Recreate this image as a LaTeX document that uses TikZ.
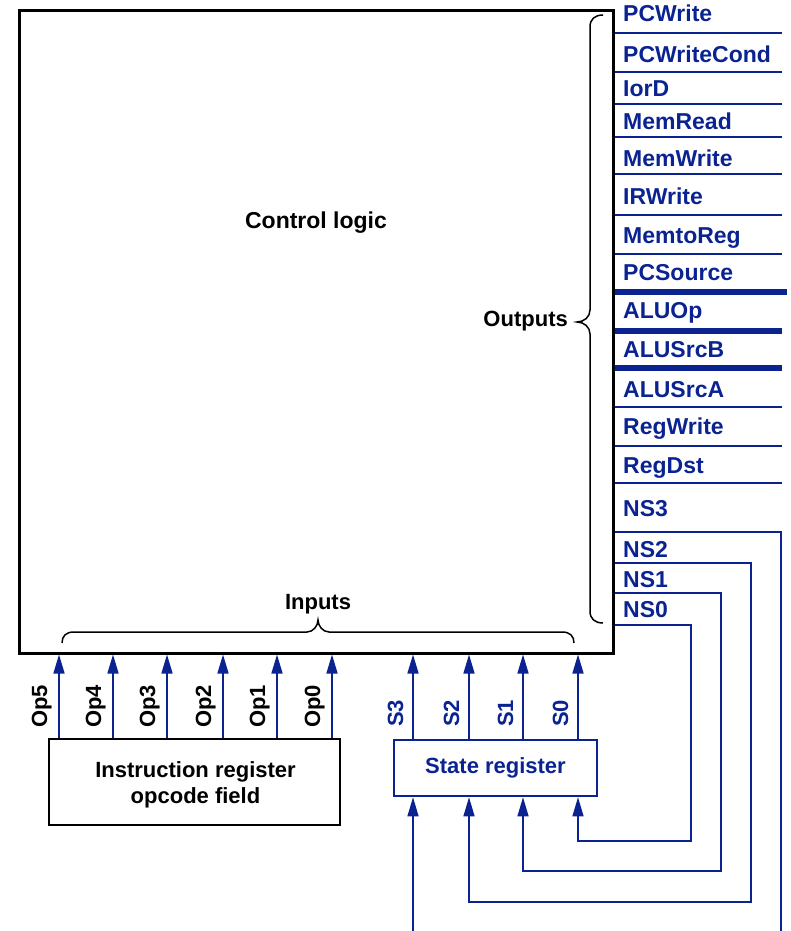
\documentclass[tikz,border=0pt]{standalone}
\usepackage{fontspec}
\setmainfont{Liberation Sans}
\usetikzlibrary{arrows.meta}
\definecolor{sigblue}{RGB}{10,35,145}
\begin{document}
\begin{tikzpicture}[x=1pt,y=-1pt,
  box/.style={draw, rectangle, inner sep=0},
  arr/.style={sigblue, line width=1.5pt, -{Triangle[length=19pt,width=11pt]}},
  wire/.style={sigblue, line width=1.3pt},
  outthin/.style={sigblue, line width=2pt},
  outthick/.style={sigblue, line width=5.5pt},
  sig/.style={text=sigblue, font=\fontsize{23}{27}\selectfont\bfseries, inner sep=0, anchor=base west},
  lbl/.style={font=\fontsize{22}{26}\selectfont\bfseries, inner sep=0},
  rlbl/.style={lbl, rotate=90, anchor=base west},
  bracestyle/.style={black, line width=1.5pt}]
\useasboundingbox (0,0) rectangle (790,931);

% main boxes
\node[box, line width=3pt, minimum width=594pt, minimum height=642.5pt] (ctrl) at (316,331.75) {};
\node[lbl, anchor=base, font=\fontsize{23}{27}\selectfont\bfseries] (ctrltxt) at (316,228) {Control logic};
\node[box, line width=2.5pt, minimum width=291pt, minimum height=86pt] (ir) at (194.5,782) {};
\node[lbl, anchor=base, font=\fontsize{22}{26}\selectfont\bfseries] (irt1) at (195.5,777) {Instruction register};
\node[lbl, anchor=base, font=\fontsize{22}{26}\selectfont\bfseries] (irt2) at (195.5,803) {opcode field};
\node[box, lbl, draw=sigblue, text=sigblue, line width=2.5pt, minimum width=203pt, minimum height=56pt] (sr) at (495.5,768) {State register};

% braces
\draw[bracestyle] (603,15) .. controls (595,15) and (590,19) .. (590,27) -- (590,310)
  .. controls (590,317) and (584,322) .. (577,322)
  .. controls (584,322) and (590,327) .. (590,334) -- (590,611)
  .. controls (590,619) and (595,623) .. (603,623);
\node[lbl, anchor=base east] (outlbl) at (568,326) {Outputs};
\draw[bracestyle] (62,643) .. controls (62,636) and (66,632) .. (74,632) -- (307,632)
  .. controls (313,632) and (318,626) .. (318,620)
  .. controls (318,626) and (323,632) .. (329,632) -- (562,632)
  .. controls (570,632) and (574,636) .. (574,643);
\node[lbl, anchor=base] (inlbl) at (318,609) {Inputs};

% opcode inputs
\foreach \i/\x in {5/59,4/113,3/167,2/223,1/277,0/332} {
  \coordinate (opx\i) at (\x,0);
  \draw[arr] (ir.north -| opx\i) -- (ctrl.south -| opx\i);
  \node[rlbl] (oplbl\i) at (\x-12,728) {Op\i};
}
% state inputs
\foreach \i/\x in {3/413,2/469,1/523,0/578} {
  \coordinate (sx\i) at (\x,0);
  \draw[arr] (sr.north -| sx\i) -- (ctrl.south -| sx\i);
  \node[rlbl, text=sigblue] (slbl\i) at (\x-10,727) {S\i};
}

% output lines
\coordinate (oend) at (782,0);
\coordinate (oendw) at (787,0);
\foreach \y in {33,72,104,137,174,215,254,407,446,483}
  \draw[outthin] (ctrl.east |- 0,\y) -- (oend |- 0,\y);
\draw[outthick] (ctrl.east |- 0,292) -- (oendw |- 0,292);
\foreach \y in {331,368}
  \draw[outthick] (ctrl.east |- 0,\y) -- (oend |- 0,\y);

% output labels
\foreach \t/\y in {PCWrite/22, PCWriteCond/63, IorD/97, MemRead/129, MemWrite/166,
  IRWrite/204, MemtoReg/243, PCSource/280, ALUOp/318, ALUSrcB/357, ALUSrcA/397,
  RegWrite/434, RegDst/473, NS3/516, NS2/557, NS1/587, NS0/617}
  \node[sig] (o\t) at (623,\y) {\t};

% feedback wires
\coordinate (bot) at (0,931);
\draw[wire] (ctrl.east |- 0,532) -- (781,532) -- (781,931);
\draw[arr, line width=1.3pt] (ctrl.east |- 0,563) -- (751,563) -- (751,902) -- (sx2 |- 0,902) -- (sr.south -| sx2);
\draw[arr, line width=1.3pt] (ctrl.east |- 0,593) -- (721,593) -- (721,871) -- (sx1 |- 0,871) -- (sr.south -| sx1);
\draw[arr, line width=1.3pt] (ctrl.east |- 0,625) -- (691,625) -- (691,841) -- (sx0 |- 0,841) -- (sr.south -| sx0);
\draw[arr, line width=1.3pt] (sx3 |- bot) -- (sr.south -| sx3);
\end{tikzpicture}
\end{document}
